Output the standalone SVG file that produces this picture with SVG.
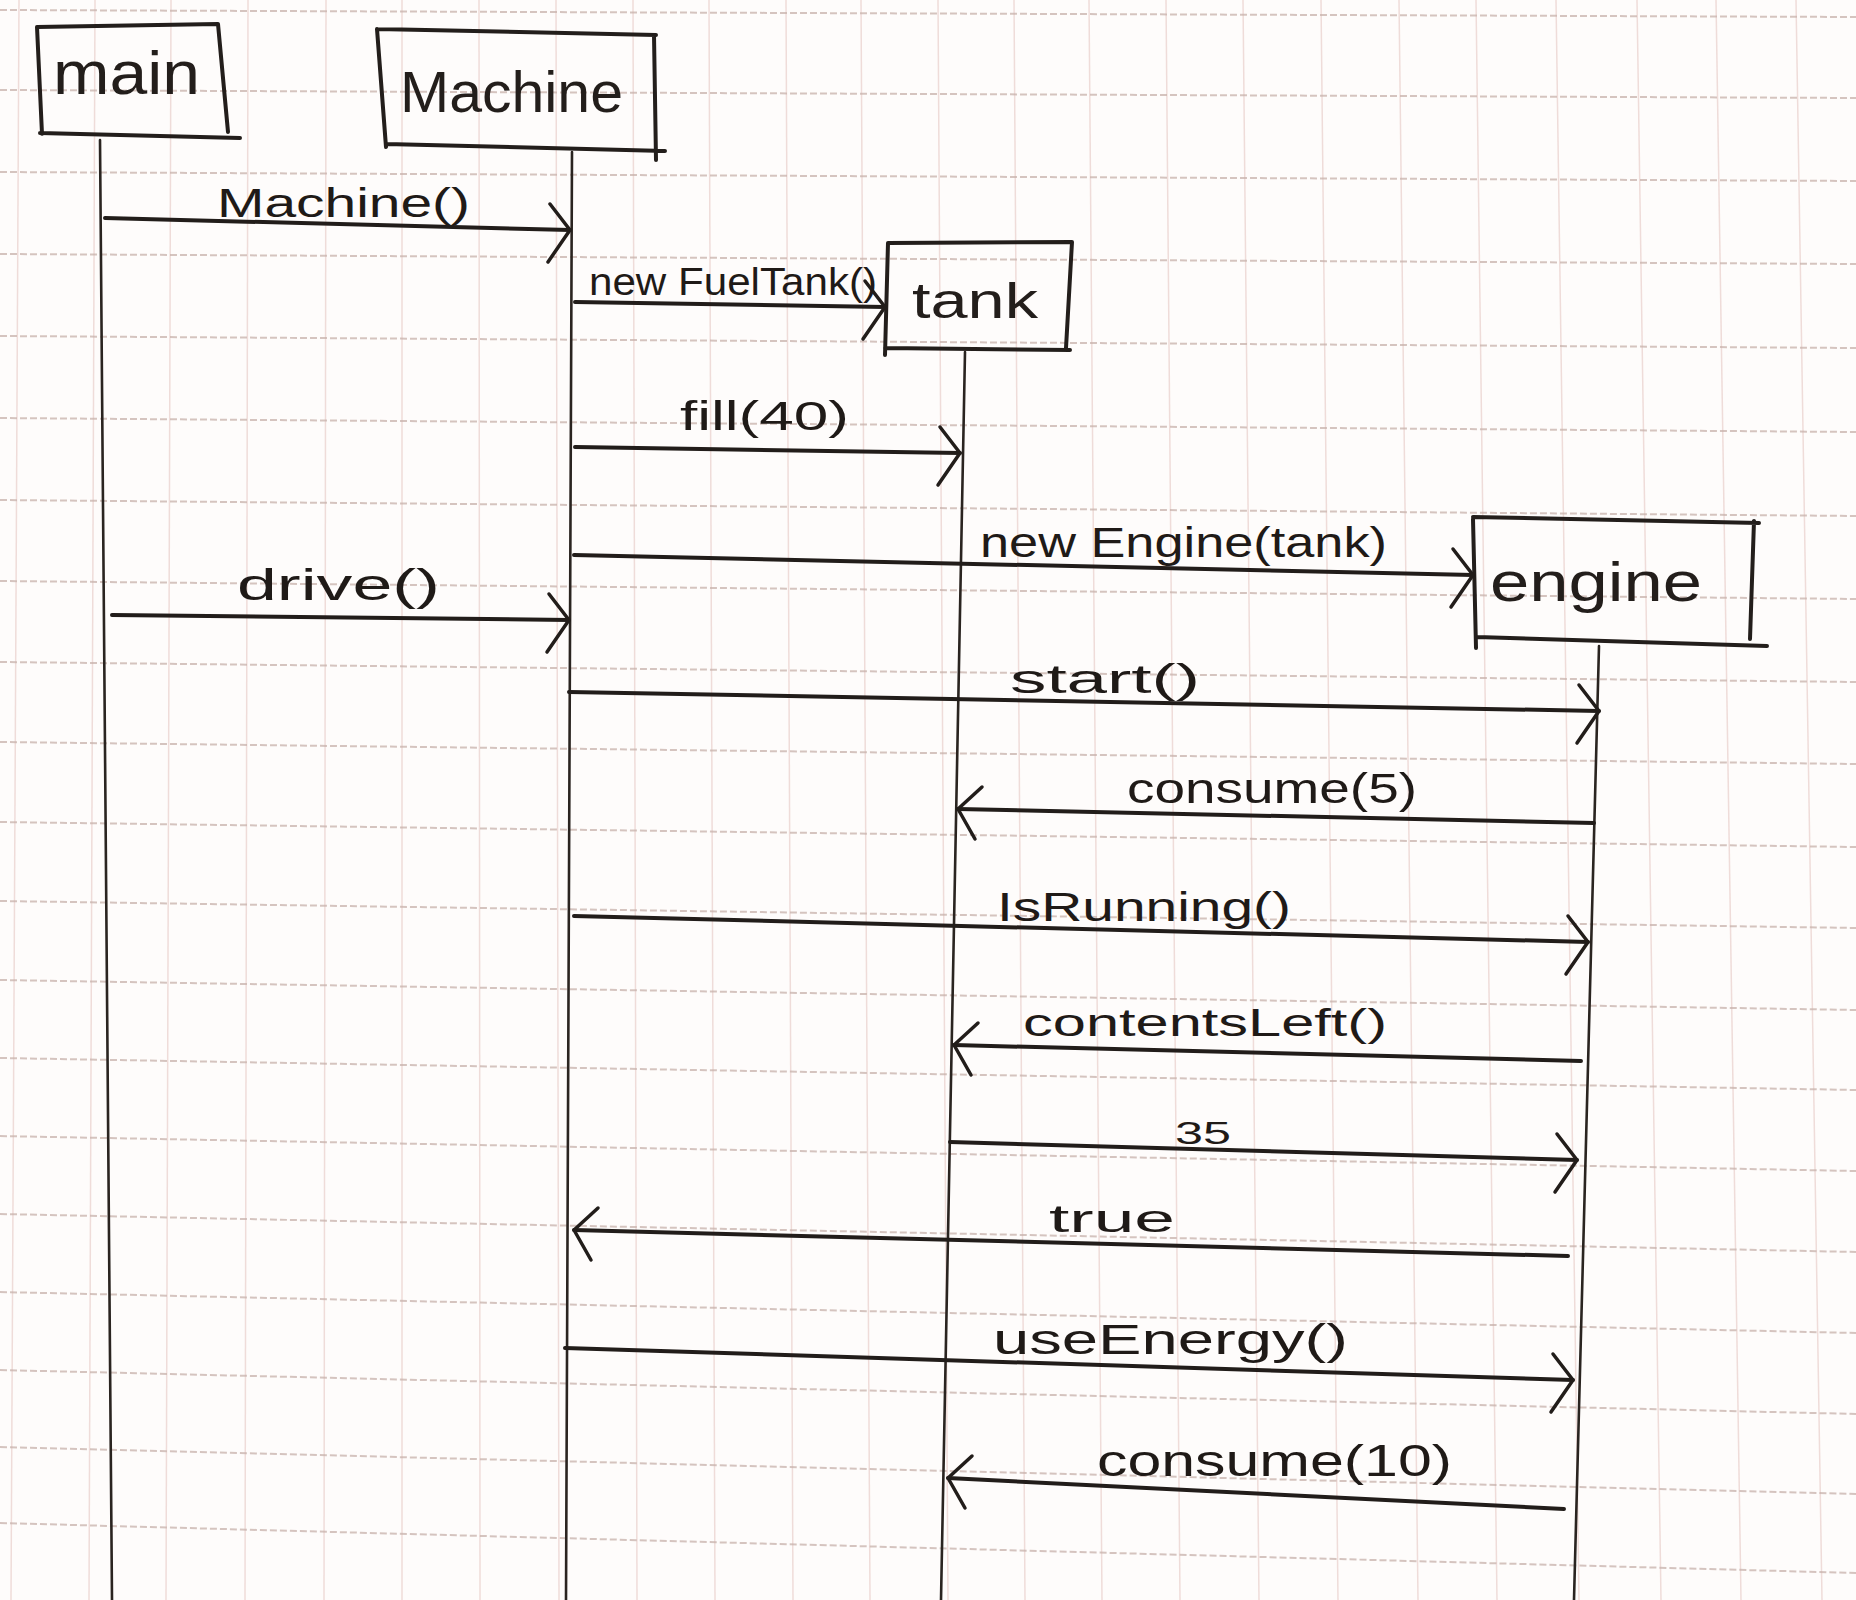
<svg xmlns="http://www.w3.org/2000/svg" width="1856" height="1600" viewBox="0 0 1856 1600">
<style>
.hg{stroke:#c7b1ab;stroke-width:2;stroke-dasharray:7 3;fill:none;opacity:.75}
.vg{stroke:#efdcd9;stroke-width:1.5;fill:none}
.box{fill:none;stroke:#231e1b;stroke-width:4;stroke-linecap:round;stroke-linejoin:round}
.life{fill:none;stroke:#2a2420;stroke-width:2.6;stroke-linecap:round}
.msg{fill:none;stroke:#221d1a;stroke-width:4;stroke-linecap:round}
.nt{font-family:"Liberation Sans","DejaVu Sans",sans-serif;fill:#231e1b}
.lb{font-family:"Liberation Sans","DejaVu Sans",sans-serif;fill:#1f1a17}
</style>
<defs>
<marker id="arrR" markerUnits="userSpaceOnUse" viewBox="-40 -40 60 80" markerWidth="60" markerHeight="80" refX="0" refY="0" orient="0" overflow="visible">
<path d="M -20 -26 L 0 0 L -22 32" fill="none" stroke="#221d1a" stroke-width="3.5" stroke-linecap="round" stroke-linejoin="round"/>
</marker>
<marker id="arrL" markerUnits="userSpaceOnUse" viewBox="-20 -40 60 80" markerWidth="60" markerHeight="80" refX="0" refY="0" orient="0" overflow="visible">
<path d="M 24 -22 L 0 0 L 17 30" fill="none" stroke="#221d1a" stroke-width="3.5" stroke-linecap="round" stroke-linejoin="round"/>
</marker>
</defs>
<rect width="1856" height="1600" fill="#fefcfb"/>
<g id="grid">
<line class="vg" x1="19" y1="0" x2="11" y2="1600"/>
<line class="vg" x1="95" y1="0" x2="89" y2="1600"/>
<line class="vg" x1="171" y1="0" x2="166" y2="1600"/>
<line class="vg" x1="248" y1="0" x2="245" y2="1600"/>
<line class="vg" x1="326" y1="0" x2="324" y2="1600"/>
<line class="vg" x1="402" y1="0" x2="402" y2="1600"/>
<line class="vg" x1="479" y1="0" x2="480" y2="1600"/>
<line class="vg" x1="556" y1="0" x2="559" y2="1600"/>
<line class="vg" x1="633" y1="0" x2="637" y2="1600"/>
<line class="vg" x1="709" y1="0" x2="715" y2="1600"/>
<line class="vg" x1="786" y1="0" x2="793" y2="1600"/>
<line class="vg" x1="861" y1="0" x2="870" y2="1600"/>
<line class="vg" x1="938" y1="0" x2="948" y2="1600"/>
<line class="vg" x1="1014" y1="0" x2="1025" y2="1600"/>
<line class="vg" x1="1089" y1="0" x2="1102" y2="1600"/>
<line class="vg" x1="1166" y1="0" x2="1180" y2="1600"/>
<line class="vg" x1="1243" y1="0" x2="1259" y2="1600"/>
<line class="vg" x1="1321" y1="0" x2="1338" y2="1600"/>
<line class="vg" x1="1399" y1="0" x2="1418" y2="1600"/>
<line class="vg" x1="1476" y1="0" x2="1497" y2="1600"/>
<line class="vg" x1="1556" y1="0" x2="1579" y2="1600"/>
<line class="vg" x1="1637" y1="0" x2="1661" y2="1600"/>
<line class="vg" x1="1716" y1="0" x2="1741" y2="1600"/>
<line class="vg" x1="1796" y1="0" x2="1822" y2="1600"/>
<line class="hg" x1="0" y1="10" x2="1856" y2="17"/>
<line class="hg" x1="0" y1="90" x2="1856" y2="98"/>
<line class="hg" x1="0" y1="172" x2="1856" y2="181"/>
<line class="hg" x1="0" y1="254" x2="1856" y2="264"/>
<line class="hg" x1="0" y1="336" x2="1856" y2="348"/>
<line class="hg" x1="0" y1="418" x2="1856" y2="432"/>
<line class="hg" x1="0" y1="500" x2="1856" y2="516"/>
<line class="hg" x1="0" y1="581" x2="1856" y2="599"/>
<line class="hg" x1="0" y1="662" x2="1856" y2="682"/>
<line class="hg" x1="0" y1="742" x2="1856" y2="764"/>
<line class="hg" x1="0" y1="822" x2="1856" y2="847"/>
<line class="hg" x1="0" y1="901" x2="1856" y2="928"/>
<line class="hg" x1="0" y1="980" x2="1856" y2="1010"/>
<line class="hg" x1="0" y1="1058" x2="1856" y2="1090"/>
<line class="hg" x1="0" y1="1136" x2="1856" y2="1171"/>
<line class="hg" x1="0" y1="1214" x2="1856" y2="1252"/>
<line class="hg" x1="0" y1="1292" x2="1856" y2="1333"/>
<line class="hg" x1="0" y1="1370" x2="1856" y2="1414"/>
<line class="hg" x1="0" y1="1447" x2="1856" y2="1494"/>
<line class="hg" x1="0" y1="1523" x2="1856" y2="1573"/>
</g>
<g id="node-main">
<path class="box" d="M37 27 L218 24 L228 132 M42 134 L37 27 M40 133 L240 138"/>
<line class="life" x1="100" y1="140" x2="112" y2="1600"/>
<text class="nt" x="53" y="94" font-size="62" textLength="147" lengthAdjust="spacingAndGlyphs">main</text>
</g>
<g id="node-Machine">
<path class="box" d="M377 29 L656 35 M654 35 L656 160 M386 144 L665 151 M377 29 L386 147"/>
<line class="life" x1="572" y1="152" x2="566" y2="1600"/>
<text class="nt" x="400" y="112" font-size="58" textLength="223" lengthAdjust="spacingAndGlyphs">Machine</text>
</g>
<g id="node-tank">
<path class="box" d="M888 243 L1072 242 L1066 348 M885 348 L1070 350 M888 243 L885 355"/>
<line class="life" x1="965" y1="352" x2="941" y2="1600"/>
<text class="nt" x="912" y="318" font-size="50" textLength="126" lengthAdjust="spacingAndGlyphs">tank</text>
</g>
<g id="node-engine">
<path class="box" d="M1473 517 L1759 523 M1754 521 L1750 639 M1477 637 L1767 646 M1473 519 L1476 648"/>
<line class="life" x1="1599" y1="646" x2="1574" y2="1600"/>
<text class="nt" x="1490" y="601" font-size="56" textLength="212" lengthAdjust="spacingAndGlyphs">engine</text>
</g>
<g id="connectors">
<g id="m1"><line class="msg" x1="105" y1="218" x2="570" y2="230" marker-end="url(#arrR)"/>
<text class="lb" x="217" y="217" font-size="40" textLength="253" lengthAdjust="spacingAndGlyphs">Machine()</text></g>
<g id="m2"><line class="msg" x1="575" y1="302" x2="885" y2="307" marker-end="url(#arrR)"/>
<text class="lb" x="589" y="295" font-size="38" textLength="288" lengthAdjust="spacingAndGlyphs">new FuelTank()</text></g>
<g id="m3"><line class="msg" x1="575" y1="447" x2="960" y2="453" marker-end="url(#arrR)"/>
<text class="lb" x="680" y="430" font-size="40" textLength="169" lengthAdjust="spacingAndGlyphs">fill(40)</text></g>
<g id="m4"><line class="msg" x1="574" y1="555" x2="1473" y2="575" marker-end="url(#arrR)"/>
<text class="lb" x="980" y="557" font-size="42" textLength="407" lengthAdjust="spacingAndGlyphs">new Engine(tank)</text></g>
<g id="m5"><line class="msg" x1="112" y1="615" x2="569" y2="620" marker-end="url(#arrR)"/>
<text class="lb" x="237" y="600" font-size="44" textLength="203" lengthAdjust="spacingAndGlyphs">drive()</text></g>
<g id="m6"><line class="msg" x1="569" y1="692" x2="1599" y2="711" marker-end="url(#arrR)"/>
<text class="lb" x="1010" y="693" font-size="40" textLength="190" lengthAdjust="spacingAndGlyphs">start()</text></g>
<g id="m7"><line class="msg" x1="1594" y1="823" x2="958" y2="809" marker-end="url(#arrL)"/>
<text class="lb" x="1127" y="803" font-size="42" textLength="290" lengthAdjust="spacingAndGlyphs">consume(5)</text></g>
<g id="m8"><line class="msg" x1="574" y1="916" x2="1588" y2="942" marker-end="url(#arrR)"/>
<text class="lb" x="997" y="921" font-size="40" textLength="294" lengthAdjust="spacingAndGlyphs">IsRunning()</text></g>
<g id="m9"><line class="msg" x1="1581" y1="1061" x2="954" y2="1045" marker-end="url(#arrL)"/>
<text class="lb" x="1023" y="1036" font-size="38" textLength="364" lengthAdjust="spacingAndGlyphs">contentsLeft()</text></g>
<g id="m10"><line class="msg" x1="950" y1="1142" x2="1577" y2="1160" marker-end="url(#arrR)"/>
<text class="lb" x="1175" y="1144" font-size="32" textLength="56" lengthAdjust="spacingAndGlyphs">35</text></g>
<g id="m11"><line class="msg" x1="1568" y1="1256" x2="574" y2="1230" marker-end="url(#arrL)"/>
<text class="lb" x="1049" y="1232" font-size="38" textLength="126" lengthAdjust="spacingAndGlyphs">true</text></g>
<g id="m12"><line class="msg" x1="565" y1="1348" x2="1573" y2="1380" marker-end="url(#arrR)"/>
<text class="lb" x="993" y="1354" font-size="42" textLength="355" lengthAdjust="spacingAndGlyphs">useEnergy()</text></g>
<g id="m13"><line class="msg" x1="1564" y1="1509" x2="948" y2="1478" marker-end="url(#arrL)"/>
<text class="lb" x="1097" y="1476" font-size="44" textLength="355" lengthAdjust="spacingAndGlyphs">consume(10)</text></g>
</g>
</svg>
